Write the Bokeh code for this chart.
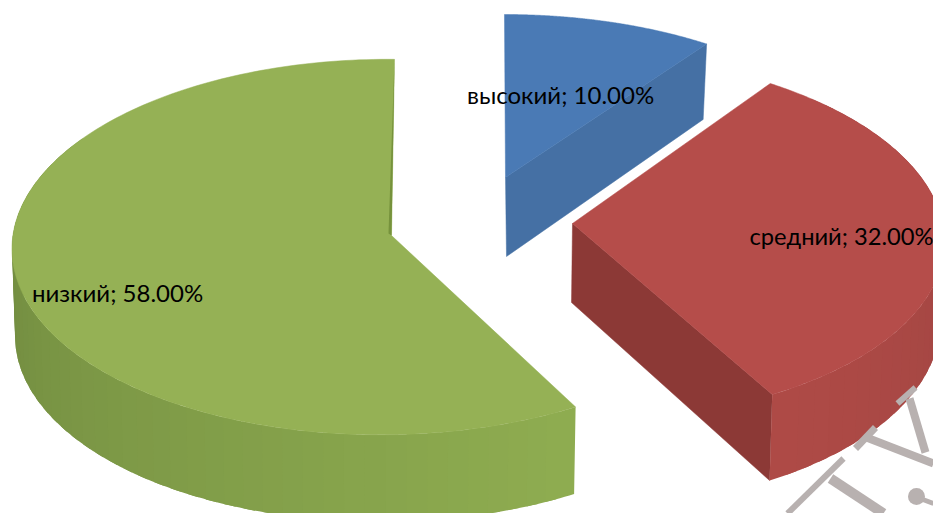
from math import radians, sin, cos

from bokeh.core.properties import value
from bokeh.embed import file_html
from bokeh.models import ColumnDataSource, Range1d
from bokeh.plotting import figure
from bokeh.resources import INLINE

# Shares of each level, clockwise from twelve o'clock
categories = ["высокий", "средний", "низкий"]
shares = [10.0, 32.0, 58.0]

top_colors = ["#4a7ab5", "#b54d4a", "#95b155"]
cut_colors = ["#4570a4", "#8c3936", "#76923c"]
wall_near = [None, "#ae4a46", "#8eac50"]
wall_far = [None, "#9e4441", "#708a3f"]

# Perspective of every exploded slice: apex (x, y), scale (a, b), keystone (k, m), shear c
top_view = [
    (505, 177, 363, 174.4, 0.07, 0.0, -0.003),
    (572, 223, 370, 183, 0.0712, 0.0, -0.0278),
    (391, 235, 371, 187, 0.0616, 0.02, 0.0086),
]
base_view = [
    (506, 256, 355, 179, 0.07, 0.0, -0.003),
    (571, 302, 367, 190.5, 0.0712, 0.0, -0.0278),
    (391, 322, 368, 187, 0.0616, 0.02, 0.0086),
]
label_x = [466.5, 749, 31.5]
label_y = [94, 235, 292]
label_size = ["24px", "23.7px", "24px"]

# Faint stamp lettering in the lower right corner
stamp_x = [[787, 843], [830, 883], [909, 925], [866, 933], [897, 915], [855, 875], [917, 933]]
stamp_y = [[513, 458], [478, 513], [398, 452], [437, 463], [403, 387], [448, 427], [497, 503]]
stamp_w = [6, 10, 8, 8, 6, 7, 5]
stamp_dot = (916, 496)


def project(deg, view):
    ax, ay, a, b, k, m, c = view
    X, Y = sin(radians(deg)), cos(radians(deg))
    w = 1 + k * Y + m * X
    return ax + a * (X + c * Y) / w, ay - b * Y / w


def arc(start, end, view, steps=90):
    pts = [project(start + (end - start) * i / steps, view) for i in range(steps + 1)]
    return [p[0] for p in pts], [p[1] for p in pts]


def blend(c1, c2, t):
    rgb1 = [int(c1[i:i + 2], 16) for i in (1, 3, 5)]
    rgb2 = [int(c2[i:i + 2], 16) for i in (1, 3, 5)]
    return "#%02x%02x%02x" % tuple(round(u + (v - u) * t) for u, v in zip(rgb1, rgb2))


p = figure(width=933, height=513, output_backend="svg", toolbar_location=None,
           x_range=Range1d(0, 933), y_range=Range1d(513, 0), min_border=0)
p.axis.visible = False
p.grid.visible = False
p.outline_line_color = None
p.background_fill_color = "#ffffff"
p.border_fill_color = "#ffffff"

# Slice angles follow from the shares
edges = [0.0]
for s in shares:
    edges.append(edges[-1] + s * 3.6)


def draw_wall(i, start, end, shade_end, band=3.0):
    # Rim bands are laid from far to near, each one overlapping its neighbour to hide seams
    n = max(1, int(abs(end - start) / band))
    step = (end - start) / n
    for j in range(n - 1, -1, -1):
        a0 = start + step * j
        a1 = a0 + step * 1.6
        tx, ty = arc(a0, a1, top_view[i], 6)
        bx, by = arc(a0, a1, base_view[i], 6)
        t = min(1.0, abs(a0 - start) / abs(shade_end - start))
        col = blend(wall_near[i], wall_far[i], t)
        p.patch(tx + bx[::-1], ty + by[::-1], fill_color=col, line_color=None)


def draw_top(i):
    x, y = arc(edges[i], edges[i + 1], top_view[i], 180)
    ax, ay = top_view[i][:2]
    p.patch([ax] + x, [ay] + y, fill_color=top_colors[i], line_color=top_colors[i], line_width=0.5)


def draw_cut(i, deg):
    tx, ty = project(deg, top_view[i])
    bx, by = project(deg, base_view[i])
    xs = [top_view[i][0], tx, bx, base_view[i][0]]
    ys = [top_view[i][1], ty, by, base_view[i][1]]
    p.patch(xs, ys, fill_color=cut_colors[i], line_color=cut_colors[i], line_width=0.5)


# Largest slice first, with its rim and the thin sliver of its far cut face
draw_wall(2, edges[2], 300.0, 275.0)
draw_top(2)
gx, gy = project(edges[3], top_view[2])
p.patch([gx, top_view[2][0], top_view[2][0] - 3], [gy, top_view[2][1], top_view[2][1] - 2],
        fill_color=cut_colors[2], line_color=None)

# Small slice: only its clockwise cut face shows below the top
draw_cut(0, edges[1])
draw_top(0)

# Middle slice: near cut face, rim, then top
draw_cut(1, edges[2])
draw_wall(1, edges[2], edges[1] + 10, 70.0)
draw_top(1)

stamp = ColumnDataSource(dict(xs=stamp_x, ys=stamp_y, w=stamp_w))
p.multi_line("xs", "ys", source=stamp, line_color="#b8b1b0", line_width="w")
p.scatter([stamp_dot[0]], [stamp_dot[1]], size=17, fill_color="#b8b1b0", line_color=None)

labels = [f"{c}; {s:.2f}%" for c, s in zip(categories, shares)]
for x, y, label, size in zip(label_x, label_y, labels, label_size):
    p.text([x], [y], text=[label], text_font=value("Lato"), text_font_size=size,
           text_color="#000000", text_align="left", text_baseline="middle")

open("out.html", "w").write(file_html(p, INLINE))
